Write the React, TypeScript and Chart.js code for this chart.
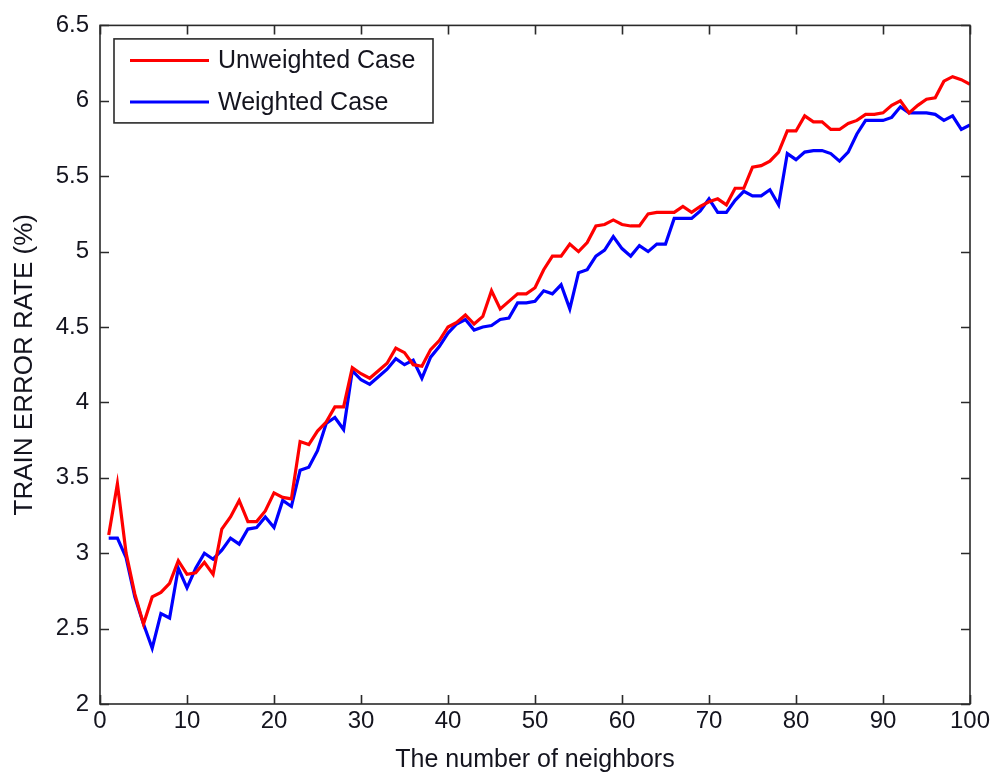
import React, { useEffect, useRef } from "react";
import { Chart, registerables } from "chart.js";

Chart.register(...registerables);

const neighbors: number[] = Array.from({ length: 100 }, (_, i) => i + 1);

const unweighted: number[] = [
  3.12, 3.46, 3.0, 2.73, 2.53, 2.71, 2.74, 2.8, 2.95, 2.86,
  2.87, 2.94, 2.86, 3.16, 3.24, 3.35, 3.21, 3.21, 3.28, 3.4,
  3.37, 3.36, 3.74, 3.72, 3.81, 3.87, 3.97, 3.97, 4.23, 4.19,
  4.16, 4.21, 4.26, 4.36, 4.33, 4.25, 4.24, 4.35, 4.41, 4.5,
  4.53, 4.58, 4.52, 4.57, 4.74, 4.62, 4.67, 4.72, 4.72, 4.76,
  4.88, 4.97, 4.97, 5.05, 5.0, 5.06, 5.17, 5.18, 5.21, 5.18,
  5.17, 5.17, 5.25, 5.26, 5.26, 5.26, 5.3, 5.26, 5.3, 5.33,
  5.35, 5.31, 5.42, 5.42, 5.56, 5.57, 5.6, 5.66, 5.8, 5.8,
  5.9, 5.86, 5.86, 5.81, 5.81, 5.85, 5.87, 5.91, 5.91, 5.92,
  5.97, 6.0, 5.92, 5.97, 6.01, 6.02, 6.13, 6.16, 6.14, 6.11,
];

const weighted: number[] = [
  3.1, 3.1, 2.97, 2.71, 2.53, 2.37, 2.6, 2.57, 2.9, 2.77,
  2.9, 3.0, 2.96, 3.02, 3.1, 3.06, 3.16, 3.17, 3.24, 3.17,
  3.35, 3.31, 3.55, 3.57, 3.68, 3.86, 3.9, 3.82, 4.21, 4.15,
  4.12, 4.17, 4.22, 4.29, 4.25, 4.28, 4.16, 4.3, 4.37, 4.46,
  4.52, 4.55, 4.48, 4.5, 4.51, 4.55, 4.56, 4.66, 4.66, 4.67,
  4.74, 4.72, 4.78, 4.62, 4.86, 4.88, 4.97, 5.01, 5.1, 5.02,
  4.97, 5.04, 5.0, 5.05, 5.05, 5.22, 5.22, 5.22, 5.27, 5.35,
  5.26, 5.26, 5.34, 5.4, 5.37, 5.37, 5.41, 5.31, 5.65, 5.61,
  5.66, 5.67, 5.67, 5.65, 5.6, 5.66, 5.78, 5.87, 5.87, 5.87,
  5.89, 5.96, 5.92, 5.92, 5.92, 5.91, 5.87, 5.9, 5.81, 5.84,
];

const seriesLabels: string[] = ["Unweighted Case", "Weighted Case"];
const seriesColors: string[] = ["#ff0000", "#0000ff"];
const xTicks: number[] = [0, 10, 20, 30, 40, 50, 60, 70, 80, 90, 100];
const yTicks: number[] = [2, 2.5, 3, 3.5, 4, 4.5, 5, 5.5, 6, 6.5];
const xTitle = "The number of neighbors";
const yTitle = "TRAIN ERROR RATE (%)";

const FONT = "Arial, 'Liberation Sans', sans-serif";
const TEXT_COLOR = "#14141e";
const AXIS_COLOR = "#2a2a2a";

const framePlugin = {
  id: "matlabFrame",
  afterDatasetsDraw(chart: any) {
    const { ctx, chartArea } = chart;
    const { left, right, top, bottom } = chartArea;
    const xs = chart.scales.x;
    const ys = chart.scales.y;
    const tl = 9;
    ctx.save();
    ctx.strokeStyle = AXIS_COLOR;
    ctx.lineWidth = 1.6;
    ctx.strokeRect(left, top, right - left, bottom - top);
    ctx.beginPath();
    xTicks.forEach((v) => {
      const px = Math.round(xs.getPixelForValue(v)) + 0.5;
      ctx.moveTo(px, bottom);
      ctx.lineTo(px, bottom - tl);
      ctx.moveTo(px, top);
      ctx.lineTo(px, top + tl);
    });
    yTicks.forEach((v) => {
      const py = Math.round(ys.getPixelForValue(v)) + 0.5;
      ctx.moveTo(left, py);
      ctx.lineTo(left + tl, py);
      ctx.moveTo(right, py);
      ctx.lineTo(right - tl, py);
    });
    ctx.stroke();

    // legend box inside the plot area
    const bx = left + 14;
    const by = top + 13.5;
    const bw = 319;
    const bh = 84;
    ctx.fillStyle = "#ffffff";
    ctx.fillRect(bx, by, bw, bh);
    ctx.strokeStyle = AXIS_COLOR;
    ctx.lineWidth = 1.6;
    ctx.strokeRect(bx, by, bw, bh);
    chart.data.datasets.forEach((ds: any, i: number) => {
      const cy = by + 21.5 + i * 41.5;
      ctx.strokeStyle = ds.borderColor;
      ctx.lineWidth = 3;
      ctx.beginPath();
      ctx.moveTo(bx + 16, cy);
      ctx.lineTo(bx + 95, cy);
      ctx.stroke();
      ctx.fillStyle = TEXT_COLOR;
      ctx.font = `25px ${FONT}`;
      ctx.textBaseline = "middle";
      ctx.textAlign = "left";
      ctx.fillText(ds.label, bx + 104, cy + 1);
    });
    ctx.restore();
  },
};

export default function App() {
  const canvasRef = useRef<HTMLCanvasElement | null>(null);

  useEffect(() => {
    const canvas = canvasRef.current;
    if (!canvas) return;
    const makeData = (vals: number[]) => neighbors.map((n, i) => ({ x: n, y: vals[i] }));
    const chart = new Chart(canvas, {
      type: "line",
      data: {
        datasets: [
          {
            label: seriesLabels[0],
            data: makeData(unweighted),
            borderColor: seriesColors[0],
            backgroundColor: seriesColors[0],
            borderWidth: 3.2,
            pointRadius: 0,
            tension: 0,
          },
          {
            label: seriesLabels[1],
            data: makeData(weighted),
            borderColor: seriesColors[1],
            backgroundColor: seriesColors[1],
            borderWidth: 3.2,
            pointRadius: 0,
            tension: 0,
          },
        ],
      },
      options: {
        responsive: false,
        animation: false,
        layout: { padding: { top: 20, right: 25, bottom: 0, left: 0 } },
        plugins: {
          legend: { display: false },
          tooltip: { enabled: false },
        },
        scales: {
          x: {
            type: "linear",
            min: 0,
            max: 100,
            afterBuildTicks: (scale: any) => {
              scale.ticks = xTicks.map((v) => ({ value: v }));
            },
            afterFit: (scale: any) => {
              scale.height = 72;
            },
            grid: { display: false, drawTicks: false },
            border: { display: false },
            ticks: {
              color: TEXT_COLOR,
              font: { family: FONT, size: 24 },
              padding: 3,
              maxRotation: 0,
              autoSkip: false,
              callback: (v: any) => String(v),
            },
            title: {
              display: true,
              text: xTitle,
              color: TEXT_COLOR,
              font: { family: FONT, size: 25 },
              padding: { top: 0, bottom: 1 },
            },
          },
          y: {
            type: "linear",
            min: 2,
            max: 6.5,
            afterBuildTicks: (scale: any) => {
              scale.ticks = yTicks.map((v) => ({ value: v }));
            },
            afterFit: (scale: any) => {
              scale.width = 100;
            },
            grid: { display: false, drawTicks: false },
            border: { display: false },
            ticks: {
              color: TEXT_COLOR,
              font: { family: FONT, size: 24 },
              padding: 11,
              autoSkip: false,
              callback: (v: any) => String(v),
            },
            title: {
              display: true,
              text: yTitle,
              color: TEXT_COLOR,
              font: { family: FONT, size: 26 },
              padding: { top: 9, bottom: 0 },
            },
          },
        },
      },
      plugins: [framePlugin],
    } as any);
    return () => chart.destroy();
  }, []);

  return (
    <div style={{ position: "absolute", left: 0, top: 0, width: 995, height: 776, background: "#ffffff" }}>
      <canvas ref={canvasRef} width={995} height={776} style={{ display: "block" }} />
    </div>
  );
}
